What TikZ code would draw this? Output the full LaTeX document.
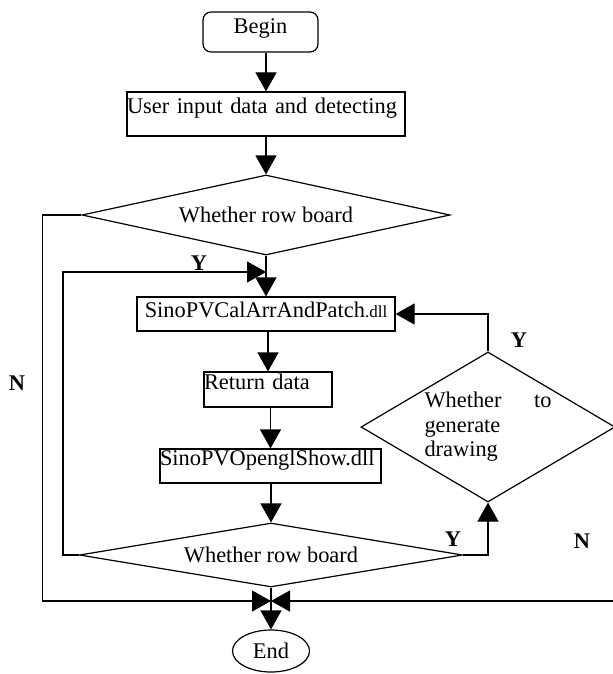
\documentclass[tikz,border=0pt]{standalone}
\usepackage{fontspec}
\setmainfont{Liberation Serif}
\usetikzlibrary{arrows.meta,shapes.geometric}
\tikzset{
  every node/.style={font=\fontsize{11.2}{13.5}\selectfont},
  arr/.style={-{Triangle[length=9.5pt,width=10.5pt]}},
  proc/.style={draw,rectangle,inner sep=0pt},
  decide/.style={draw,diamond,inner sep=0pt},
  yn/.style={font=\fontsize{11.2}{13.5}\selectfont\bfseries},
}

\begin{document}
\begin{tikzpicture}[x=0.5pt,y=-0.5pt,line width=0.6pt]
  \useasboundingbox (0,0) rectangle (613,674);
  \clip (0,0) rectangle (613,674);
  % main column
  \node[proc,rounded corners=4pt,minimum width=57.5pt,text height=11pt,text depth=9pt] (begin) at (260.5,32) {Begin};
  \node[proc,text width=139pt,align=left,text height=10.5pt,text depth=11.5pt] (user) at (266,114) {User input data and detecting};
  \node[decide,minimum width=184pt,minimum height=40pt,shape aspect=4.6] (wrowa) at (266,215) {Whether row board};
  \node[proc,minimum width=129pt,text height=10pt,text depth=7pt] (cal) at (266,314) {SinoPVCalArrAndPatch{\fontsize{8.5}{10}\selectfont.dll}};
  \node[proc,text width=64pt,align=left,text height=8.5pt,text depth=9pt] (ret) at (268,389.5) {Return data};
  \node[proc,text width=110.5pt,align=left,text height=8pt,text depth=9pt] (show) at (270.5,466) {SinoPVOpenglShow.dll};
  \node[decide,minimum width=191.5pt,minimum height=32pt,shape aspect=6] (wrowb) at (271,555) {Whether row board};
  \node[draw,ellipse,inner sep=0pt,minimum width=38.5pt,minimum height=21pt] (end) at (271,651) {End};
  % side decision
  \node[decide,minimum width=127pt,minimum height=75pt,shape aspect=1.7,text width=63.5pt,align=left,
        font=\fontsize{11.2}{12.3}\selectfont] (gen) at (488,427) {Whether\hfill to\\generate\\drawing};
  \coordinate (loopin) at (266,272);
  \coordinate (merge) at (271,601);
  % flow
  \draw[arr] (begin.south -| user.north) -- (user.north);
  \draw[arr] (user) -- (wrowa.north);
  \draw[arr] (wrowa) -- (cal);
  \draw[arr] (cal.south -| ret.north) -- (ret.north);
  \draw[arr] (ret.south -| show.north) -- (show.north);
  \draw[arr] (show.south -| wrowb.north) -- (wrowb.north);
  \draw[arr] (wrowb) -- (end);
  \draw[arr] (wrowb.west) -- ++(-8pt,0) |- (loopin);
  \draw[arr] (wrowb.east) -| (gen.south);
  \draw[arr] (gen.north) |- (cal.east);
  \draw[arr] (wrowa.west) -- ++(-19.5pt,0) |- (merge);
  \draw[arr] (gen.east) -- ++(15pt,0) |- (merge);
  % labels
  \node[yn] (ya) at (199,263) {Y};
  \node[yn] (yb) at (453,539) {Y};
  \node[yn] (yc) at (519,340) {Y};
  \node[yn] (na) at (17,383) {N};
  \node[yn] (nb) at (582,541) {N};
\end{tikzpicture}
\end{document}
